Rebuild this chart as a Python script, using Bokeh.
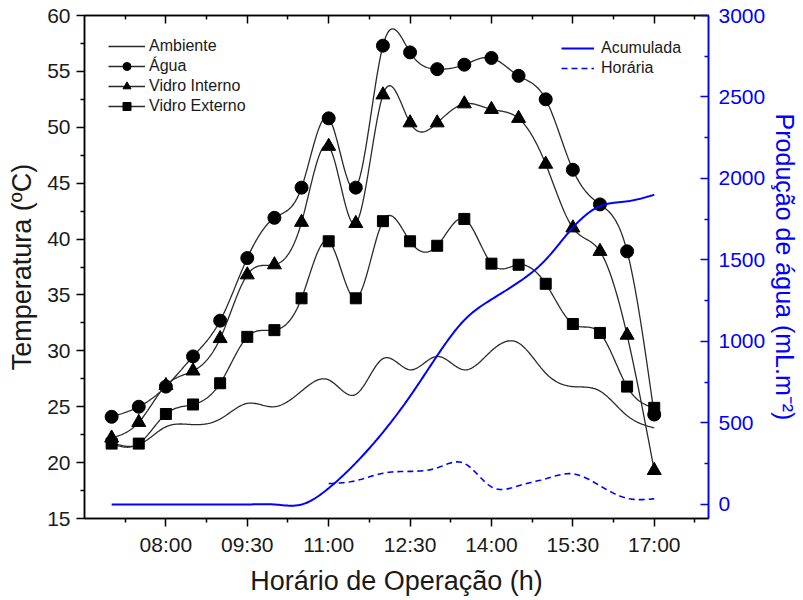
import numpy as np
from bokeh.plotting import figure
from bokeh.models import Range1d, LinearAxis, FixedTicker, Legend, LegendItem
from bokeh.embed import file_html
from bokeh.resources import INLINE

# ---------------- data ----------------
horarios = ["07:00", "07:30", "08:00", "08:30", "09:00", "09:30", "10:00",
            "10:30", "11:00", "11:30", "12:00", "12:30", "13:00", "13:30",
            "14:00", "14:30", "15:00", "15:30", "16:00", "16:30", "17:00"]
ambiente = [21.8, 21.6, 23.2, 23.4, 23.9, 25.3, 25.0, 26.4, 27.4, 26.1, 29.3,
            28.3, 29.5, 28.3, 30.0, 30.7, 28.0, 26.8, 26.4, 24.2, 23.1]
agua = [24.1, 25.0, 26.8, 29.5, 32.7, 38.3, 41.9, 44.6, 50.8, 44.6, 57.3,
        56.7, 55.2, 55.6, 56.2, 54.6, 52.5, 46.2, 43.1, 38.9, 24.3]
vidro_interno = [22.2, 23.6, 26.9, 28.2, 31.1, 36.8, 37.7, 41.5, 48.3, 41.4, 52.9,
                 50.4, 50.4, 52.1, 51.6, 50.8, 46.7, 41.0, 38.9, 31.4, 19.3]
vidro_externo = [21.7, 21.7, 24.35, 25.2, 27.1, 31.25, 31.85, 34.7, 39.8, 34.7, 41.6,
                 39.8, 39.4, 41.8, 37.8, 37.7, 36.0, 32.4, 31.6, 26.8, 24.9]
acumulada = [0, 0, 0, 0, 0, 0, 0, 0, 100, 255, 443, 664, 913, 1131, 1258,
             1364, 1502, 1699, 1830, 1860, 1900]
horarios_horaria = ["11:00", "11:30", "12:00", "12:30", "13:00", "13:30", "14:00",
                    "14:30", "15:00", "15:30", "16:00", "16:30", "17:00"]
horaria = [128, 146, 192, 203, 225, 252, 108, 115, 158, 188, 115, 38, 35]

x_ticks = ["08:00", "09:30", "11:00", "12:30", "14:00", "15:30", "17:00"]
x_minor = ["07:15", "08:45", "10:15", "11:45", "13:15", "14:45", "16:15", "17:45"]
titulo_x = "Horário de Operação (h)"
titulo_y = "Temperatura (ºC)"
titulo_y2 = "Produção de água (mL.m⁻²)"


def to_h(s):
    hh, mm = s.split(":")
    return int(hh) + int(mm) / 60.0


def spline(xs, ys, n=24):
    """natural cubic spline through the points (line style 'spline')"""
    x = np.asarray(xs, float)
    y = np.asarray(ys, float)
    m = len(x)
    h = np.diff(x)
    A = np.zeros((m, m))
    b = np.zeros(m)
    A[0, 0] = A[-1, -1] = 1.0
    for i in range(1, m - 1):
        A[i, i - 1] = h[i - 1]
        A[i, i] = 2 * (h[i - 1] + h[i])
        A[i, i + 1] = h[i]
        b[i] = 6 * ((y[i + 1] - y[i]) / h[i] - (y[i] - y[i - 1]) / h[i - 1])
    M = np.linalg.solve(A, b)
    xx, yy = [], []
    for i in range(m - 1):
        t = np.linspace(x[i], x[i + 1], n, endpoint=(i == m - 2))
        a = x[i + 1] - t
        c = t - x[i]
        s = (M[i] * a ** 3 / (6 * h[i]) + M[i + 1] * c ** 3 / (6 * h[i])
             + (y[i] / h[i] - M[i] * h[i] / 6) * a
             + (y[i + 1] / h[i] - M[i + 1] * h[i] / 6) * c)
        xx.extend(t.tolist())
        yy.extend(s.tolist())
    return xx, yy


t = [to_h(s) for s in horarios]
th = [to_h(s) for s in horarios_horaria]

FONT = "Liberation Sans"
BLACK = "#2a2a2a"
TXT = "#1a1a1a"
BLUE = "#0000ff"

p = figure(width=803, height=600, output_backend="svg", toolbar_location=None,
           x_range=Range1d(6.5, 18.0), y_range=Range1d(15, 60),
           min_border_left=84, min_border_right=95, min_border_top=15,
           min_border_bottom=82, x_axis_location=None, y_axis_location=None)
p.grid.visible = False
p.outline_line_color = "black"
p.outline_line_width = 1.5
p.background_fill_color = "white"
p.border_fill_color = "white"
p.extra_y_ranges = {"prod": Range1d(-86, 3000)}

# axes
xb = LinearAxis(ticker=FixedTicker(ticks=[to_h(s) for s in x_ticks],
                                   minor_ticks=[to_h(s) for s in x_minor]))
xb.major_label_overrides = {to_h(s): s for s in x_ticks}
xb.axis_label = titulo_x
xa = LinearAxis(ticker=FixedTicker(ticks=[to_h(s) for s in x_ticks],
                                   minor_ticks=[to_h(s) for s in x_minor]))
xa.major_label_text_color = None
xa.major_label_standoff = 0
xa.major_tick_out = 0
xa.major_tick_in = 8
xa.minor_tick_out = 0
xa.minor_tick_in = 4

yl = LinearAxis(ticker=FixedTicker(ticks=list(range(15, 61, 5)),
                                   minor_ticks=[17.5 + 5 * i for i in range(9)]))
yl.axis_label = titulo_y

yr = LinearAxis(y_range_name="prod",
                ticker=FixedTicker(ticks=list(range(0, 3001, 500)),
                                   minor_ticks=[250 + 500 * i for i in range(6)]))
yr.axis_label = titulo_y2
yr.axis_label_orientation = "vertical"

for ax in (xb, xa, yl, yr):
    ax.axis_line_width = 1.5
    ax.major_tick_line_width = 1.5
    ax.minor_tick_line_width = 1.5
    ax.major_label_text_font = FONT
    ax.axis_label_text_font = FONT
    ax.axis_label_text_font_style = "normal"
    ax.axis_label_text_font_size = "27px"

for ax in (xb, yl):
    ax.major_tick_out = 8
    ax.major_tick_in = 0
    ax.minor_tick_out = 4
    ax.minor_tick_in = 0
    ax.major_label_text_font_size = "21px"
    ax.major_label_text_color = TXT
    ax.axis_label_text_color = TXT
    ax.major_label_standoff = 6
    ax.axis_label_standoff = 7

yr.major_tick_out = 0
yr.major_tick_in = 8
yr.minor_tick_out = 0
yr.minor_tick_in = 4
yr.major_label_standoff = 10
yr.major_label_text_font_size = "21px"
yr.axis_label_text_font_size = "25px"
yr.axis_label_standoff = 3
for attr in ("axis_line_color", "major_tick_line_color", "minor_tick_line_color",
             "major_label_text_color", "axis_label_text_color"):
    setattr(yr, attr, BLUE)

p.add_layout(yl, "left")
p.add_layout(yr, "right")
p.add_layout(xb, "below")
p.add_layout(xa, "above")

# curves
sx, sy = spline(t, ambiente)
r_amb = p.line(sx, sy, line_color=BLACK, line_width=1.3)

sx, sy = spline(t, agua)
r_ag_l = p.line(sx, sy, line_color=BLACK, line_width=1.3)
r_ag_m = p.scatter(t, agua, marker="circle", size=13, fill_color="black", line_color="black")

sx, sy = spline(t, vidro_interno)
r_vi_l = p.line(sx, sy, line_color=BLACK, line_width=1.3)
r_vi_m = p.scatter(t, vidro_interno, marker="triangle", size=14, fill_color="black", line_color="black")

sx, sy = spline(t, vidro_externo)
r_ve_l = p.line(sx, sy, line_color=BLACK, line_width=1.3)
r_ve_m = p.scatter(t, vidro_externo, marker="square", size=11, fill_color="black", line_color="black")

sx, sy = spline(t, acumulada)
r_acu = p.line(sx, sy, line_color=BLUE, line_width=2, y_range_name="prod")
sx, sy = spline(th, horaria)
r_hor = p.line(sx, sy, line_color=BLUE, line_width=1.6, line_dash="6 4", y_range_name="prod")

leg1 = Legend(items=[LegendItem(label="Ambiente", renderers=[r_amb]),
                     LegendItem(label="Água", renderers=[r_ag_l, r_ag_m]),
                     LegendItem(label="Vidro Interno", renderers=[r_vi_l, r_vi_m]),
                     LegendItem(label="Vidro Externo", renderers=[r_ve_l, r_ve_m])],
              location=(24, 402))
leg2 = Legend(items=[LegendItem(label="Acumulada", renderers=[r_acu]),
                     LegendItem(label="Horária", renderers=[r_hor])],
              location=(477, 440))
for lg in (leg1, leg2):
    lg.background_fill_alpha = 0
    lg.border_line_alpha = 0
    lg.padding = 0
    lg.margin = 0
    lg.spacing = 0
    lg.glyph_height = 20
    lg.label_height = 20
    lg.label_text_font = FONT
    lg.label_text_font_size = "16px"
    lg.label_text_color = TXT
    lg.label_standoff = 4
leg1.glyph_width = 37
leg2.glyph_width = 33
leg2.label_standoff = 7
p.add_layout(leg1, "center")
p.add_layout(leg2, "center")

open("out.html", "w").write(file_html(p, INLINE))
